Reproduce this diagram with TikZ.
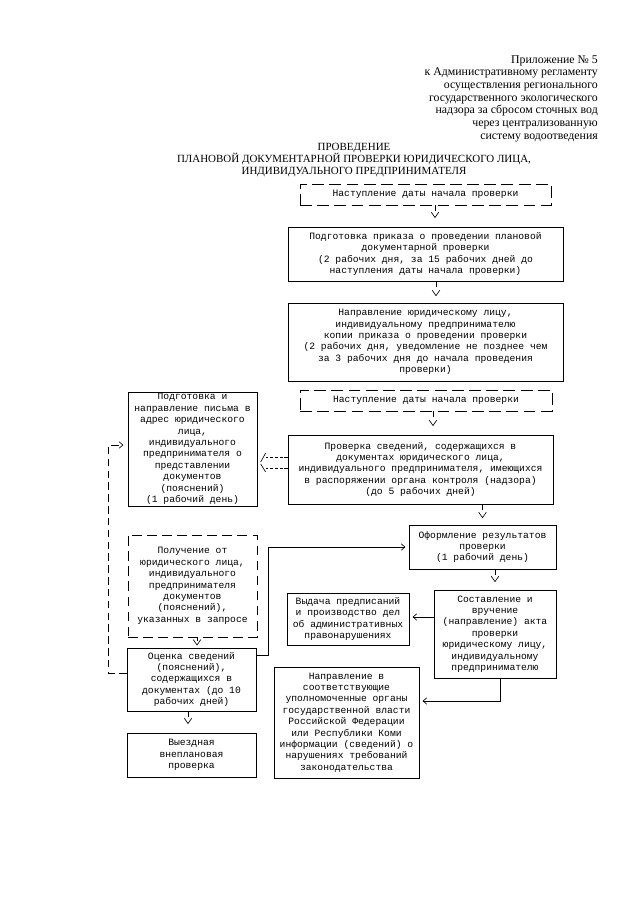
\documentclass[tikz,border=0pt]{standalone}
\usepackage{fontspec}
\setmainfont{Liberation Serif}
\newfontfamily\monof{Liberation Mono}
\usetikzlibrary{arrows.meta,calc}
\begin{document}
\begin{tikzpicture}[x=0.93pt,y=-0.93pt,
  box/.style 2 args={draw, line width=0.6pt, minimum width=#1*0.93pt, minimum height=#2*0.93pt,
     inner sep=1pt, align=center, font=\monof\fontsize{9}{10.6}\selectfont},
  dbox/.style={dash pattern=on 11pt off 5pt},
  hdr/.style={anchor=base east, inner sep=0pt, font=\fontsize{11}{13}\selectfont},
  ttl/.style={anchor=base, inner sep=0pt, font=\fontsize{10.2}{12}\selectfont},
  vconn/.style={draw, line width=0.6pt, dash pattern=on 5pt off 80pt,
     -{Straight Barb[length=5pt,width=7pt]}, shorten >=#1},
  vconn/.default=7pt,
  hconn/.style={draw, line width=0.6pt, -{Straight Barb[length=3.5pt,width=6pt]}, shorten >=3pt},
  loopd/.style={draw, line width=0.6pt, dash pattern=on 7pt off 4pt,
     -{Straight Barb[length=3.5pt,width=6pt]}, shorten >=4pt},
  dsh/.style={draw, line width=0.6pt, dash pattern=on 3pt off 1.5pt},
  slash/.style={draw, line width=0.6pt}]
\fill[white] (0,0) rectangle (640,905);
\useasboundingbox (0,0) rectangle (640,905);

% header
\node[hdr] (h1) at (598,63) {Приложение № 5};
\node[hdr] (h2) at (598,75.7) {к Административному регламенту};
\node[hdr] (h3) at (598,88.5) {осуществления регионального};
\node[hdr] (h4) at (598,101.2) {государственного экологического};
\node[hdr] (h5) at (598,113.9) {надзора за сбросом сточных вод};
\node[hdr] (h6) at (598,126.6) {через централизованную};
\node[hdr] (h7) at (598,139.3) {систему водоотведения};

% title
\node[ttl] (t1) at (354,150.7) {ПРОВЕДЕНИЕ};
\node[ttl] (t2) at (354,162.7) {ПЛАНОВОЙ ДОКУМЕНТАРНОЙ ПРОВЕРКИ ЮРИДИЧЕСКОГО ЛИЦА,};
\node[ttl] (t3) at (354,174.7) {ИНДИВИДУАЛЬНОГО ПРЕДПРИНИМАТЕЛЯ};

% boxes
\node[box={251}{21}, dbox] (b1) at (425.5,194.5) {Наступление даты начала проверки};
\node[box={275}{54}] (b2) at (425.5,254) {Подготовка приказа о проведении плановой\\документарной проверки\\(2 рабочих дня, за 15 рабочих дней до\\наступления даты начала проверки)};
\node[box={275}{78}] (b3) at (425.5,342) {Направление юридическому лицу,\\индивидуальному предпринимателю\\копии приказа о проведении проверки\\(2 рабочих дня, уведомление не позднее чем\\за 3 рабочих дня до начала проведения\\проверки)};
\node[box={252}{21}, dbox] (b4) at (426,400.5) {Наступление даты начала проверки};
\node[box={265}{69}] (b5) at (420.5,469.5) {Проверка сведений, содержащихся в\\документах юридического лица,\\индивидуального предпринимателя, имеющихся\\в распоряжении органа контроля (надзора)\\(до 5 рабочих дней)};
\node[box={147}{44}] (b6) at (482.5,547) {Оформление результатов\\проверки\\(1 рабочий день)};
\node[box={122}{88}] (b7) at (495,634) {Составление и\\вручение\\(направление) акта\\проверки\\юридическому лицу,\\индивидуальному\\предпринимателю};
\node[box={122}{52}] (b8) at (348,619) {Выдача предписаний\\и производство дел\\об административных\\правонарушениях};
\node[box={145}{111}] (b9) at (346.5,722.5) {Направление в\\соответствующие\\уполномоченные органы\\государственной власти\\Российской Федерации\\или Республики Коми\\информации (сведений) о\\нарушениях требований\\законодательства};
\node[box={129}{114}] (b10) at (192.5,449) {Подготовка и\\направление письма в\\адрес юридического\\лица,\\индивидуального\\предпринимателя о\\представлении\\документов\\(пояснений)\\(1 рабочий день)};
\node[box={129}{102}, dbox, dash pattern=on 9pt off 5pt] (b11) at (192.5,586) {Получение от\\юридического лица,\\индивидуального\\предпринимателя\\документов\\(пояснений),\\указанных в запросе};
\node[box={129}{63}] (b12) at (191.5,679.5) {Оценка сведений\\(пояснений),\\содержащихся в\\документах (до 10\\рабочих дней)};
\node[box={129}{44}] (b13) at (191.5,755) {Выездная\\внеплановая\\проверка};

% x positions of vertical connectors
\coordinate (xa) at (435,0);
\coordinate (xb) at (436,0);
\coordinate (xc) at (433,0);
\coordinate (xd) at (197,0);
\coordinate (xe) at (188,0);

% vertical connectors
\draw[vconn=8pt] (b1.south -| xa) -- (b2.north -| xa);
\draw[vconn=6pt] (b2.south -| xb) -- (b3.north -| xb);
\draw[vconn=8pt] (b4.south -| xc) -- (b5.north -| xc);
\draw[vconn=6pt] (b5.south -| b6.north) -- (b6.north);
\draw[vconn=7pt] (b6.south -| b7.north) -- (b7.north);
\draw[vconn=2pt, dash pattern=on 3pt off 80pt] (b11.south -| xd) -- (b12.north -| xd);
\draw[vconn=8pt] (b12.south -| xe) -- (b13.north -| xe);

% horizontal connectors
\draw[hconn] ($(b7.west)+(0,-17)$) -- ($(b8.east)+(0,-2)$);
\draw[hconn] ($(b7.south)+(5,0)$) |- ($(b9.east)+(0,-21.5)$);
\draw[hconn] ($(b12.east)+(0,-24.5)$) -- ++(12,0) |- (b6.west);
\draw[loopd] ($(b12.west)+(0,-6.5)$) -- ++(-18,0) |- ($(b10.west)+(0,-4)$);

% pseudo-graphic arrow from b5 to b10
\draw[dsh] ($(b5.west)+(0,-12.5)$) -- ++(-22,0) coordinate (u1);
\draw[slash] ($(u1)+(0,-4)$) -- ++(-5,9);
\draw[dsh] ($(b5.west)+(0,-1.5)$) -- ++(-22,0) coordinate (u2);
\draw[slash] ($(u2)+(-5,-4)$) -- ++(5,8);
\end{tikzpicture}
\end{document}
